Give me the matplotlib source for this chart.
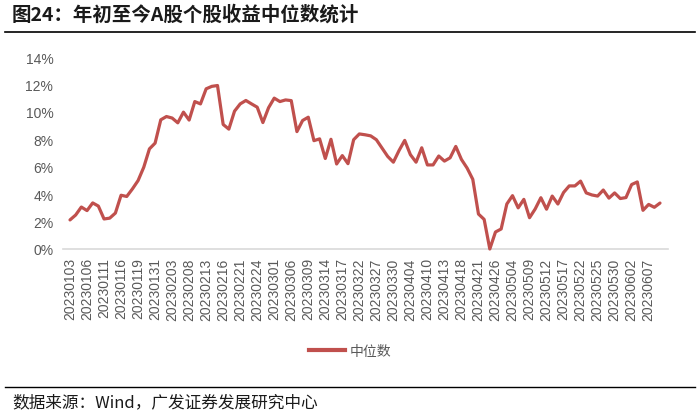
import matplotlib
matplotlib.use("Agg")
import matplotlib.pyplot as plt
from matplotlib.lines import Line2D

dates = [
    "20230103","20230104","20230105","20230106","20230109","20230110","20230111","20230112","20230113",
    "20230116","20230117","20230118","20230119","20230120","20230130","20230131",
    "20230201","20230202","20230203","20230206","20230207","20230208","20230209","20230210","20230213",
    "20230214","20230215","20230216","20230217","20230220","20230221","20230222","20230223","20230224",
    "20230227","20230228",
    "20230301","20230302","20230303","20230306","20230307","20230308","20230309","20230310","20230313",
    "20230314","20230315","20230316","20230317","20230320","20230321","20230322","20230323","20230324",
    "20230327","20230328","20230329","20230330","20230331",
    "20230403","20230404","20230406","20230407","20230410","20230411","20230412","20230413","20230414",
    "20230417","20230418","20230419","20230420","20230421","20230424","20230425","20230426","20230427",
    "20230428",
    "20230504","20230505","20230508","20230509","20230510","20230511","20230512","20230515","20230516",
    "20230517","20230518","20230519","20230522","20230523","20230524","20230525","20230526","20230529",
    "20230530","20230531",
    "20230601","20230602","20230605","20230606","20230607","20230608","20230609",
]

median_pct = [
    2.12, 2.48, 3.06, 2.80, 3.36, 3.13, 2.19, 2.25, 2.62, 3.92,
    3.83, 4.38, 4.99, 5.96, 7.30, 7.72, 9.42, 9.66, 9.55, 9.20,
    9.98, 9.40, 10.75, 10.58, 11.68, 11.86, 11.92, 9.08, 8.74, 10.05,
    10.58, 10.83, 10.58, 10.34, 9.22, 10.30, 11.00, 10.75, 10.87, 10.82,
    8.56, 9.37, 9.61, 7.90, 8.03, 6.60, 8.00, 6.20, 6.81, 6.22,
    7.97, 8.39, 8.33, 8.25, 7.97, 7.36, 6.75, 6.33, 7.18, 7.92,
    6.88, 6.33, 7.38, 6.13, 6.13, 6.78, 6.41, 6.65, 7.48, 6.53,
    5.90, 5.08, 2.55, 2.16, 0.00, 1.24, 1.46, 3.28, 3.89, 3.00,
    3.62, 2.28, 2.92, 3.74, 2.90, 3.86, 3.28, 4.12, 4.60, 4.60,
    4.95, 4.09, 3.94, 3.86, 4.30, 3.71, 4.09, 3.68, 3.75, 4.70,
    4.89, 2.82, 3.25, 3.04, 3.35,
]

yticks = [0, 2, 4, 6, 8, 10, 12, 14]
tick_step = 3
series_name = "中位数"
title_text = "图24：年初至今A股个股收益中位数统计"
source_text = "数据来源：Wind，广发证券发展研究中心"

LINE_COLOR = "#C0504D"
GRAY = "#595959"
CJK = ["Noto Sans CJK SC", "DejaVu Sans"]
LAT = ["Liberation Sans", "DejaVu Sans"]

W, H = 700, 414
fig = plt.figure(figsize=(W / 100, H / 100), dpi=100)

ax = fig.add_axes([63 / W, (H - 250) / H, (668 - 63) / W, (250 - 58) / H])
x = list(range(len(dates)))
ax.plot(x, median_pct, color=LINE_COLOR, lw=2.3, solid_joinstyle="round",
        solid_capstyle="round", clip_on=False, zorder=3)

px_per = (660 - 70) / (len(dates) - 1)
ax.set_xlim(-(70 - 63) / px_per, (len(dates) - 1) + (668 - 660) / px_per)
ax.set_ylim(0, 14)

ax.set_yticks(yticks)
ax.set_yticklabels([f"{v}%" for v in yticks], fontfamily=LAT, fontsize=10, color=GRAY)
tick_idx = list(range(0, len(dates), tick_step))
ax.set_xticks(tick_idx)
ax.set_xticklabels([dates[i] for i in tick_idx], rotation=90, fontfamily=LAT,
                   fontsize=10, color=GRAY)
ax.tick_params(axis="both", length=0)
ax.tick_params(axis="x", pad=6)
ax.tick_params(axis="y", pad=7)

for s in ["top", "right", "left"]:
    ax.spines[s].set_visible(False)
ax.spines["bottom"].set_color("#D9D9D9")
ax.spines["bottom"].set_linewidth(1.2)

handle = Line2D([0], [0], color=LINE_COLOR, lw=3)
leg = fig.legend([handle], [series_name], loc="center", bbox_to_anchor=(350 / W, (H - 352) / H),
                 frameon=False, handlelength=2.6, handletextpad=0.3,
                 prop={"family": CJK, "size": 10})
for t in leg.get_texts():
    t.set_color(GRAY)

fig.text(12 / W, (H - 15) / H, title_text, fontsize=14, fontweight="bold",
         fontfamily=CJK, color="#1A1A1A", ha="left", va="center")
fig.add_artist(Line2D([5 / W, 695 / W], [(H - 33) / H, (H - 33) / H], color="black", lw=1.2))

fig.add_artist(Line2D([5 / W, 695 / W], [(H - 388) / H, (H - 388) / H], color="black", lw=1.0))
fig.text(12 / W, (H - 403) / H, source_text, fontsize=12, fontfamily=CJK,
         color="#1A1A1A", ha="left", va="center")

fig.savefig("out.png", dpi=100)
